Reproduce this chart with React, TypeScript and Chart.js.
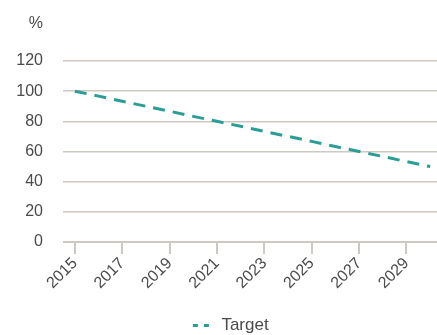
import React, { useEffect, useRef } from "react";
import { Chart, registerables } from "chart.js";

Chart.register(...registerables);

const years: string[] = ["2015","2016","2017","2018","2019","2020","2021","2022","2023","2024","2025","2026","2027","2028","2029","2030"];
const target: number[] = [100, 96.7, 93.3, 90, 86.7, 83.3, 80, 76.7, 73.3, 70, 66.7, 63.3, 60, 56.7, 53.3, 50];
const yTicks: number[] = [0, 20, 40, 60, 80, 100, 120];
const unitLabel = "%";
const seriesName = "Target";

const FONT = "'Liberation Sans', Arial, sans-serif";
const TEXT = "#4a4a4a";
const GRID = "#cdc8c0";
const TEAL = "#2a9d95";

export default function App() {
  const ref = useRef<HTMLCanvasElement | null>(null);
  useEffect(() => {
    if (!ref.current) return;
    const unitPlugin = {
      id: "unitPlugin",
      afterDraw(chart: any) {
        const ctx = chart.ctx;
        const y = chart.scales.y;
        ctx.save();
        ctx.font = `16px ${FONT}`;
        ctx.fillStyle = TEXT;
        ctx.textAlign = "right";
        ctx.textBaseline = "middle";
        ctx.fillText(unitLabel, y.right - 20, chart.chartArea.top - 37);
        ctx.restore();
      },
    };
    const chart = new Chart(ref.current, {
      type: "line",
      data: {
        labels: years,
        datasets: [
          {
            label: seriesName,
            data: target,
            borderColor: TEAL,
            backgroundColor: TEAL,
            borderWidth: 3,
            borderDash: [12, 8],
            pointRadius: 0,
            tension: 0,
            fill: false,
          },
        ],
      },
      options: {
        animation: false,
        responsive: false,
        maintainAspectRatio: false,
        layout: { padding: { top: 61, right: 0, left: 0, bottom: 0 } },
        plugins: {
          tooltip: { enabled: false },
          legend: {
            position: "bottom",
            maxHeight: 19,
            labels: {
              font: { family: FONT, size: 17 },
              color: TEXT,
              usePointStyle: true,
              pointStyle: "line",
              pointStyleWidth: 39.5,
              padding: 1,
              generateLabels: (c: any) =>
                c.data.datasets.map((d: any, i: number) => ({
                  text: d.label,
                  fillStyle: TEAL,
                  strokeStyle: TEAL,
                  lineWidth: 3,
                  lineDash: [0, 19.5, 5, 6, 5, 100],
                  lineDashOffset: 0,
                  pointStyle: "line",
                  fontColor: TEXT,
                  hidden: false,
                  datasetIndex: i,
                })),
            },
          },
        },
        scales: {
          x: {
            offset: true,
            grid: {
              drawOnChartArea: false,
              drawTicks: true,
              tickLength: 12,
              color: GRID,
              lineWidth: 2,
            },
            border: { display: false },
            ticks: {
              autoSkip: false,
              maxRotation: 45,
              minRotation: 45,
              font: { family: FONT, size: 16 },
              color: TEXT,
              padding: 0,
              callback: (_v: any, i: number) => (i % 2 === 0 ? years[i] : null),
            },
            afterFit: (s: any) => {
              s.height = 74;
            },
          },
          y: {
            min: 0,
            max: 120,
            afterBuildTicks: (s: any) => {
              s.ticks = yTicks.map((v) => ({ value: v }));
            },
            grid: {
              drawTicks: false,
              color: (c: any) => GRID,
              lineWidth: (c: any) => (c.tick && c.tick.value === 0 ? 2 : 1.5),
            },
            border: { display: false },
            ticks: {
              font: { family: FONT, size: 16 },
              color: TEXT,
              padding: 20,
            },
            afterFit: (s: any) => {
              s.width = 63;
            },
          },
        },
      },
      plugins: [unitPlugin],
    });
    return () => chart.destroy();
  }, []);
  return (
    <div style={{ position: "fixed", left: 0, top: 0, width: 437, height: 335, overflow: "hidden", background: "#fff" }}>
      <canvas ref={ref} width={442} height={335} style={{ width: 442, height: 335, display: "block" }} />
    </div>
  );
}
